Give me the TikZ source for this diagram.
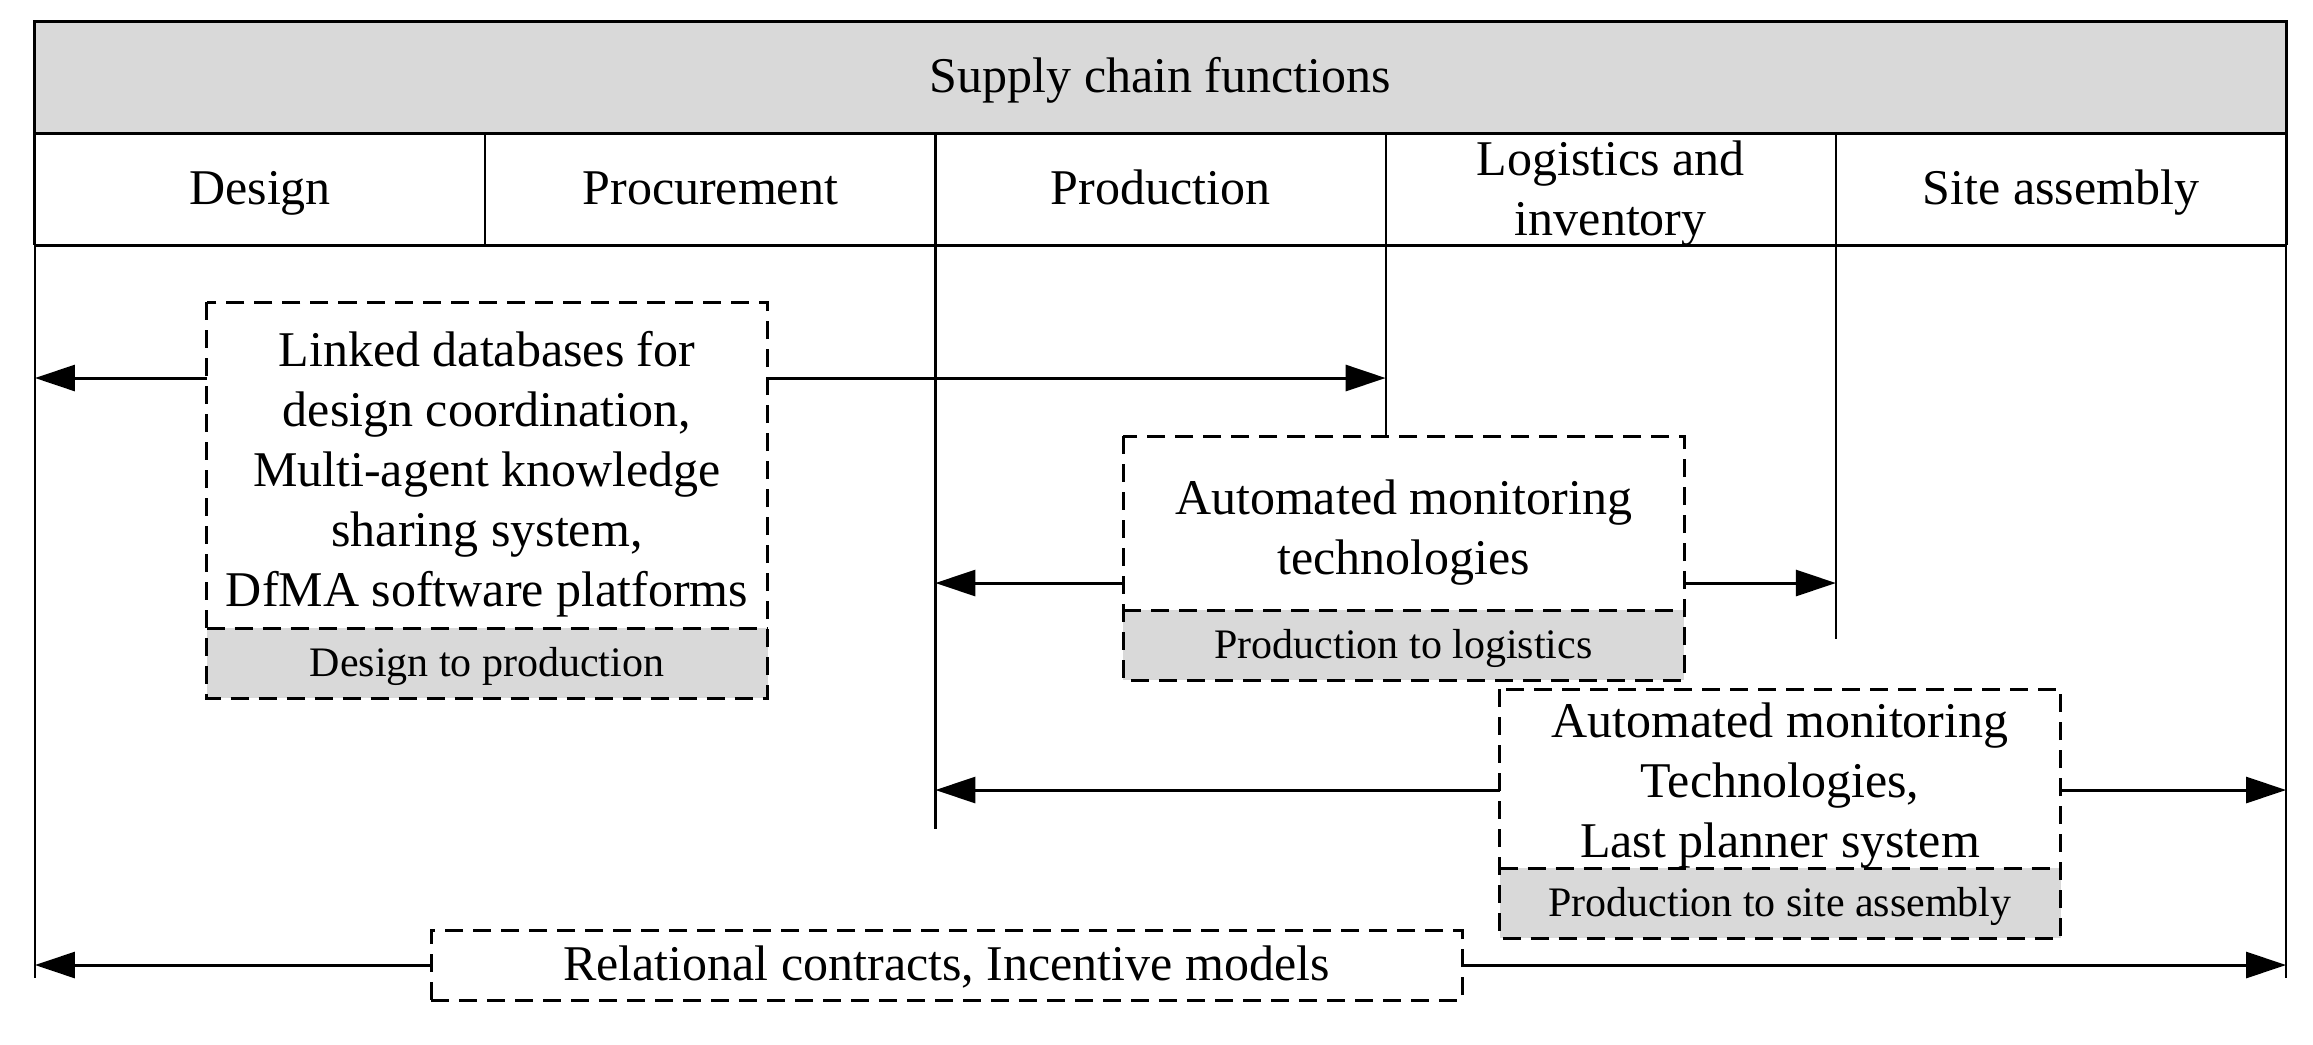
\documentclass[tikz,border=0pt]{standalone}
\usepackage{fontspec}
\setmainfont{Liberation Serif}
\usetikzlibrary{arrows.meta}
\definecolor{hdrgray}{HTML}{D9D9D9}
\begin{document}
\begin{tikzpicture}[x=0.2pt,y=-0.2pt,
  every node/.style={inner sep=0pt,outer sep=0pt},
  frameline/.style={line width=0.6pt},
  divline/.style={line width=0.45pt},
  conn/.style={line width=0.6pt,-{Triangle[length=8pt,width=5.2pt]}},
  boxdash/.style={line width=0.6pt,dash pattern=on 3.6pt off 2pt},
  txt/.style={font=\fontsize{10}{12}\selectfont,align=center,text height=7.5pt,text depth=1.5pt},
  mtxt/.style={font=\fontsize{10}{12}\selectfont,align=center},
  smalltxt/.style={font=\fontsize{8.4}{10}\selectfont,align=center,text height=6.5pt,text depth=1.2pt},
  colcell/.style={draw,divline,minimum width=90.04pt,minimum height=22.4pt,txt},
  toppart/.style={minimum width=112.2pt},
  graypart/.style={minimum width=112.2pt,minimum height=14pt,fill=hdrgray,smalltxt},
]
\useasboundingbox (0,0) rectangle (2313,1044);

% header
\node[draw,frameline,fill=hdrgray,minimum width=450.2pt,minimum height=22.4pt,txt] (header) at (1160.5,77) {Supply chain functions};

% column cells
\node[colcell] (c1) at (260.1,189) {Design};
\node[colcell] (c2) at (710.3,189) {Procurement};
\node[colcell] (c3) at (1160.5,189) {Production};
\node[colcell] (c4) at (1610.7,189) {};
\node[mtxt,yshift=-0.9pt] (t4) at (c4.center) {Logistics and\\inventory};
\node[colcell] (c5) at (2060.9,189) {Site assembly};
\draw[frameline] (c1.south west) -- (c5.south east);
\draw[frameline] (c1.north west) -- (c1.south west);
\draw[frameline] (c5.north east) -- (c5.south east);

% helper coordinates
\coordinate (yA) at (0,378);
\coordinate (yB) at (0,583);
\coordinate (yC) at (0,790);
\coordinate (endP) at (0,829);
\coordinate (endS) at (0,639);
\coordinate (bl) at (0,978);

% boxes
\node[toppart,minimum height=65.2pt] (b1top) at (487,465) {};
\node[mtxt,yshift=-1.8pt] (t1) at (b1top.center) {Linked databases for\\design coordination,\\Multi-agent knowledge\\sharing system,\\DfMA software platforms};
\node[graypart] (b1bot) at (487,663) {Design to production};
\draw[boxdash] (b1top.north west) rectangle (b1bot.south east);
\draw[boxdash] (b1bot.north west) -- (b1bot.north east);

\node[toppart,minimum height=34.8pt] (b2top) at (1403.5,523) {};
\node[mtxt,yshift=-2pt] (t2) at (b2top.center) {Automated monitoring\\technologies};
\node[graypart] (b2bot) at (1403.5,645) {Production to logistics};
\draw[boxdash] (b2top.north west) rectangle (b2bot.south east);
\draw[boxdash] (b2bot.north west) -- (b2bot.north east);

\node[toppart,minimum height=35.8pt] (b3top) at (1780,778.5) {};
\node[mtxt,yshift=-1.4pt] (t3) at (b3top.center) {Automated monitoring\\Technologies,\\Last planner system};
\node[graypart] (b3bot) at (1780,903) {Production to site assembly};
\draw[boxdash] (b3top.north west) rectangle (b3bot.south east);
\draw[boxdash] (b3bot.north west) -- (b3bot.north east);

\node[draw,boxdash,minimum width=206.2pt,minimum height=14pt,txt] (b4) at (946.5,965) {Relational contracts, Incentive models};

% vertical lines in body
\draw[divline] (c1.south west) -- (c1.south west |- bl);
\draw[divline] (c5.south east) -- (c5.south east |- bl);
\draw[divline] (c3.south west) -- (c3.south west |- endP);
\draw[divline] (c4.south west) -- (c4.south west |- b2top.north);
\draw[divline] (c5.south west) -- (c5.south west |- endS);

% connectors
\draw[conn] (b1top.west |- yA) -- (c1.south west |- yA);
\draw[conn] (b1top.east |- yA) -- (c4.south west |- yA);
\draw[conn] (b2top.west |- yB) -- (c3.south west |- yB);
\draw[conn] (b2top.east |- yB) -- (c5.south west |- yB);
\draw[conn] (b3top.west |- yC) -- (c3.south west |- yC);
\draw[conn] (b3top.east |- yC) -- (c5.south east |- yC);
\draw[conn] (b4.west) -- (c1.south west |- b4.west);
\draw[conn] (b4.east) -- (c5.south east |- b4.east);
\end{tikzpicture}
\end{document}
